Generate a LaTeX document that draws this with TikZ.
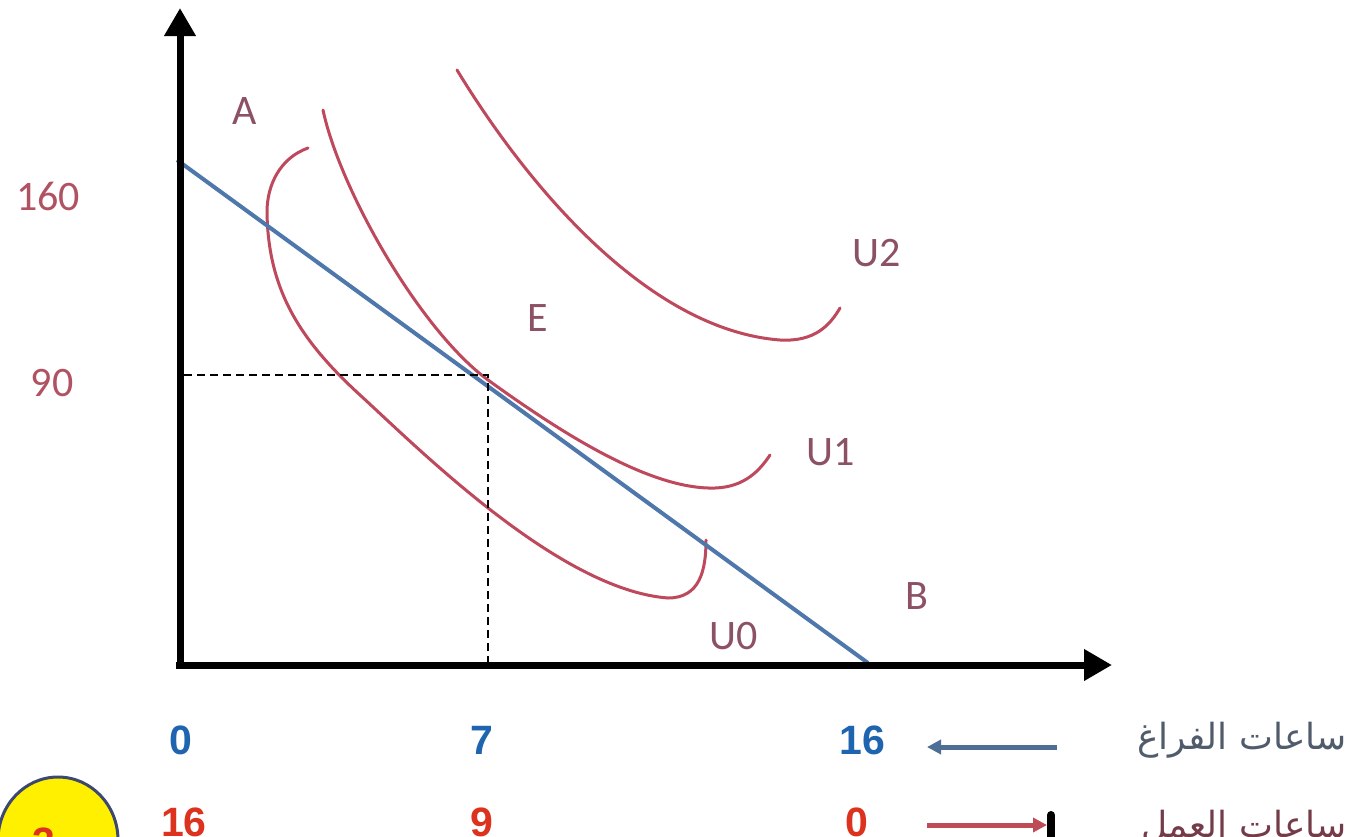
\documentclass[tikz,border=0pt]{standalone}
\usepackage{fontspec}
\setmainfont{Carlito}
\newfontfamily\arialf{Liberation Sans}
\newfontfamily\arabicfont[Script=Arabic]{DejaVu Sans}
\TeXXeTstate=1
\usetikzlibrary{arrows.meta}
\definecolor{curvec}{RGB}{190,72,92}
\definecolor{budgetc}{RGB}{78,120,172}
\definecolor{lblc}{RGB}{140,82,100}
\definecolor{numc}{RGB}{176,82,98}
\definecolor{bluenum}{RGB}{30,100,175}
\definecolor{rednum}{RGB}{220,50,30}
\definecolor{arrowblue}{RGB}{78,110,150}
\definecolor{arrowred}{RGB}{190,75,85}
\definecolor{arab1}{RGB}{80,92,108}
\definecolor{arab2}{RGB}{115,60,72}
\definecolor{circfill}{RGB}{255,240,0}
\definecolor{circline}{RGB}{60,72,110}
\tikzset{
  axisline/.style={line width=7pt, black, -{Triangle[width=30pt,length=28pt]}},
  budgetline/.style={line width=4pt, budgetc},
  icurve/.style={line width=3pt, curvec, line cap=round},
  guide/.style={line width=2.5pt, black, dash pattern=on 8pt off 5pt},
  lbl/.style={font=\fontsize{42}{48}\selectfont, text=lblc, inner sep=0pt},
  axnum/.style={font=\fontsize{42}{48}\selectfont, text=numc, inner sep=0pt},
  bnum/.style={font=\arialf\bfseries\fontsize{41}{46}\selectfont, text=bluenum, inner sep=0pt},
  rnum/.style={font=\arialf\bfseries\fontsize{41}{46}\selectfont, text=rednum, inner sep=0pt},
  arabtxt/.style={font=\arabicfont\fontsize{36}{42}\selectfont, inner sep=0pt, anchor=east},
}
\begin{document}
\begin{tikzpicture}[x=1pt,y=-1pt]
\clip (0,0) rectangle (1351,836);
\fill[white] (0,0) rectangle (1351,836);
% coordinates
\coordinate (O) at (180,665);
\coordinate (Ytop) at (180,8);
\coordinate (Xend) at (1112,665);
\coordinate (Ostart) at (176,665);
\coordinate (BudA) at (177,160);
\coordinate (BudB) at (868,663);
\coordinate (Ec) at (488,375);
\coordinate (Ey) at (184,375);
\coordinate (Ex) at (488,665);
% indifference curves
\draw[icurve] (308,148) .. controls (280,158) and (267,185) .. (267,212)
  .. controls (268,290) and (300,340) .. (360,395)
  .. controls (420,450) and (560,590) .. (668,598)
  .. controls (700,598) and (706,570) .. (706,540);
\draw[icurve] (323,110) .. controls (340,190) and (420,330) .. (488,380)
  .. controls (560,432) and (650,490) .. (715,488)
  .. controls (745,487) and (760,470) .. (770,455);
\draw[icurve] (457,70) .. controls (530,190) and (650,330) .. (780,340)
  .. controls (815,342) and (830,325) .. (840,308);
% budget line
\draw[budgetline] (BudA) -- (BudB);
% guides
\draw[guide] (Ey) -- (Ec) -- (Ex);
% axes
\draw[axisline] (O) -- (Ytop);
\draw[axisline] (Ostart) -- (Xend);
% labels
\node[axnum] (n160) at (48,196) {160};
\node[axnum] (n90) at (52,383) {90};
\node[lbl] (lA) at (245,111) {A};
\node[lbl] (lE) at (538,318) {E};
\node[lbl] (lU2) at (877,253) {U2};
\node[lbl] (lU1) at (831,452) {U1};
\node[lbl] (lU0) at (734,636) {U0};
\node[lbl] (lB) at (917,596) {B};
% bottom numbers
\node[bnum] (b0) at (181,740) {0};
\node[bnum] (b7) at (482,740) {7};
\node[bnum] (b16) at (862,740) {16};
\node[rnum] (r16) at (184,822) {16};
\node[rnum] (r9) at (482,822) {9};
\node[rnum] (r0) at (857,822) {0};
% legend arrows
\coordinate (ba1) at (1057,747);
\coordinate (ba2) at (927,747);
\draw[line width=5pt, arrowblue, -{Triangle[width=14pt,length=14pt]}] (ba1) -- (ba2);
\coordinate (ra1) at (927,825);
\coordinate (ra2) at (1047,825);
\draw[line width=5pt, arrowred, -{Triangle[width=14pt,length=14pt]}] (ra1) -- (ra2);
\coordinate (bar1) at (1051,815);
\coordinate (bar2) at (1051,845);
\draw[line width=8pt, black, line cap=round] (bar1) -- (bar2);
% arabic
\node[arabtxt, text=arab1] (t1) at (1347,740) {\beginR ساعات الفراغ\endR};
\node[arabtxt, text=arab2] (t2) at (1347,827) {\beginR ساعات العمل\endR};
% circle
\draw[line width=3pt, circline, fill=circfill] (58,840) ellipse [x radius=60, y radius=63];
\node[rnum] (c3) at (44,842) {3};
\end{tikzpicture}
\end{document}
